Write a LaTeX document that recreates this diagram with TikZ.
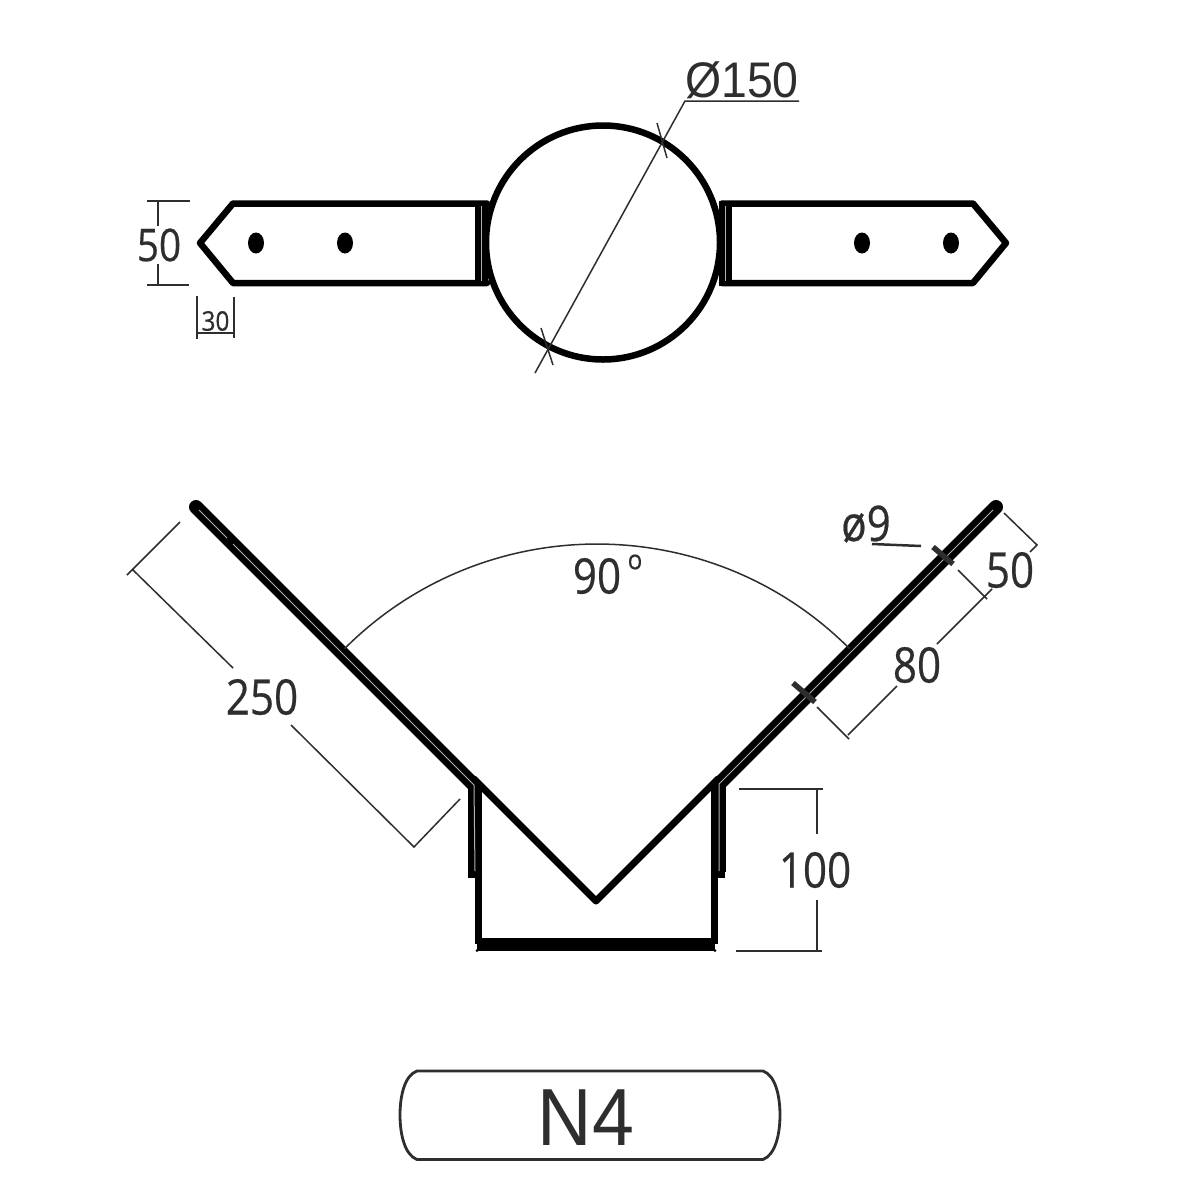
\documentclass[tikz,border=0pt]{standalone}
\usepackage{fontspec}
\setmainfont[FakeBold=0.5]{Open Sans}
\newfontfamily\arialfont{Liberation Sans}
\definecolor{ink}{HTML}{2E2E2E}
\tikzset{
  heavy/.style={draw=black,line width=6.5pt,line join=round,line cap=round},
  sheet/.style={draw=black,line width=14pt,line cap=round},
  slit/.style={draw=white!70!black,line width=1pt},
  dimline/.style={draw=ink,line width=1.5pt},
  bolt/.style={draw=ink,line width=5.5pt},
  dimtext/.style={text=ink,inner sep=0pt,font=\fontsize{49}{49}\selectfont,xscale=.86,transform shape},
  smalltext/.style={text=ink,inner sep=0pt,font=\fontsize{27}{27}\selectfont,xscale=.9,transform shape},
  hole/.style={fill=black,draw=none}
}
\begin{document}
\begin{tikzpicture}[x=1pt,y=-1pt]
\path[use as bounding box,fill=white] (0,0) rectangle (1193,1200);
% top view
\draw[heavy] (603,242.5) circle (117);
\draw[heavy] (487,203.5) -- (233,203.5) -- (200,243) -- (233,283) -- (487,283);
\draw[heavy] (722,203.5) -- (973,203.5) -- (1006,243) -- (973,283) -- (722,283);
\fill[black] (475,201) rectangle (488,286);
\fill[black] (719,201) rectangle (732,286);
\draw[slit] (481.5,206) -- (481.5,281);
\draw[slit] (725.5,206) -- (725.5,281);
\fill[hole] (256,243) ellipse (8 and 10.5);
\fill[hole] (345,243) ellipse (8 and 10.5);
\fill[hole] (862,243) ellipse (8 and 10.5);
\fill[hole] (951,243) ellipse (8 and 10.5);
% dim 50 left
\draw[dimline] (147,201) -- (190,201) (147,285) -- (189,285);
\draw[dimline] (158,201) -- (158,226) (158,264) -- (158,285);
\node[dimtext,font=\fontsize{45}{45}\selectfont] (dimFiftyA) at (159,245) {50};
% dim 30
\draw[dimline] (197,296) -- (197,339) (234,297) -- (234,338) (197,333) -- (234,333);
\node[smalltext] (dimThirty) at (215.5,321) {30};
% dia 150
\draw[dimline] (535,373) -- (685,101) -- (799,101);
\draw[dimline] (657,123) -- (667,158) (541,328) -- (553,365);
\node[dimtext,font=\arialfont\fontsize{50}{50}\selectfont,xscale=1.08] (dimDia) at (742,80) {Ø150};
% bottom view
\draw[sheet] (196,507) -- (474,785);
\draw[sheet] (996,507) -- (718,785);
\draw[heavy,line width=7pt] (474,779) -- (596,901) -- (718,779);
\draw[draw=black,line width=14pt] (475,786) -- (475,872);
\draw[draw=black,line width=15pt] (718.5,786) -- (718.5,872);
\draw[draw=black,line width=6pt,line cap=round] (471,872) -- (471,875) -- (479,875);
\draw[draw=black,line width=6pt,line cap=round] (722,872) -- (722,875) -- (714,875);
\draw[draw=black,line width=7pt] (478.7,785) -- (478.7,944);
\draw[draw=black,line width=7pt] (714.5,785) -- (714.5,944);
\draw[draw=black,line width=13pt] (477,944) -- (715,944);
\fill[black] (477,950.5) circle (1.5) (715,950.5) circle (1.5);
\draw[slit] (199,510) -- (227,538) (233,544) -- (474,785) -- (475,871);
\draw[slit] (993,510) -- (719,784) -- (719,871);
\draw[bolt] (933,547) -- (953,564);
\draw[bolt] (793,683) -- (815,702);
% arc
\draw[dimline] (344.6,648.6) arc[start angle=225,end angle=315,radius=357];
\node[dimtext] (dimAngle) at (597,576) {90};
\node[smalltext] (dimDeg) at (635,562) {o};
% dim 250
\draw[dimline] (180,522) -- (127,575) (133,570) -- (233,668) (291,725) -- (414,847) -- (460,799);
\node[dimtext] (dimLen) at (262,697) {250};
% dim right
\draw[dimline] (1004,513) -- (1037,545) -- (1030,552);
\draw[dimline] (958,570) -- (987,599);
\draw[dimline] (992,589) -- (937,644) (897,686) -- (848,735);
\draw[dimline] (817,707) -- (849,739);
\node[dimtext] (dimFiftyB) at (1010,570) {50};
\node[dimtext] (dimEighty) at (917,665) {80};
\node[dimtext] (dimHole) at (866,524) {ø9};
\draw[draw=ink,line width=2.5pt] (872,544) -- (921,546);
% dim 100
\draw[dimline] (739,789) -- (823,789) (736,951) -- (822,951);
\draw[dimline] (817,789) -- (817,834) (817,900) -- (817,951);
\node[dimtext] (dimHundred) at (815,870) {100};
% label box
\draw[draw=ink,line width=2.8pt] (417,1071) -- (763,1071) .. controls (775,1075) and (780,1095) .. (780,1115) .. controls (780,1135) and (775,1155) .. (763,1159.5) -- (417,1159.5) .. controls (405,1155) and (400,1135) .. (400,1115) .. controls (400,1095) and (405,1075) .. (417,1071) -- cycle;
\node[text=ink,inner sep=0pt,font=\arialfont\fontsize{81}{81}\selectfont,xscale=.93,transform shape] (tag) at (586,1117.5) {N4};
\end{tikzpicture}
\end{document}
